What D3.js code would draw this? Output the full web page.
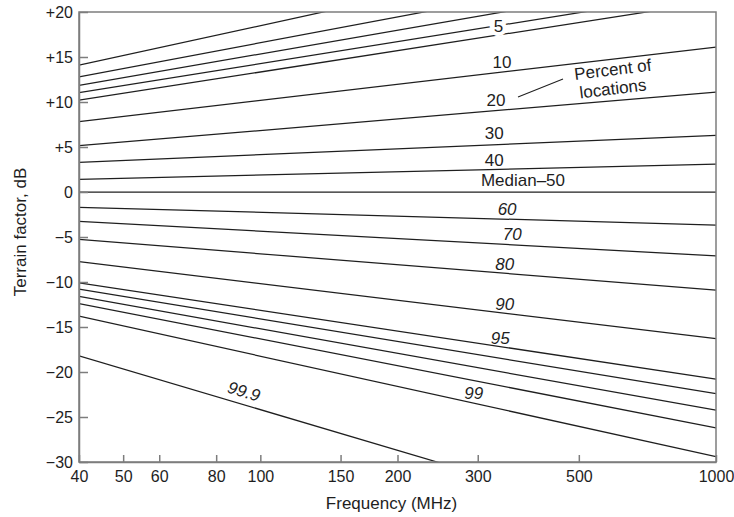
<!DOCTYPE html>
<html>
<head>
<meta charset="utf-8">
<script src="https://cdn.jsdelivr.net/npm/d3@7"></script>
<style>
  body { margin: 0; background: #fff; }
  text { font-family: "Liberation Sans", Arial, Helvetica, sans-serif; fill: #1e1e1e; }
</style>
</head>
<body>
<svg id="chart" width="734" height="517"></svg>
<script>
// Terrain factor (dB) against frequency, one straight line (on log frequency)
// per percentage of locations. Each curve is given by its value at 40 MHz and 1000 MHz.
const curveLabels    = ["", "", "", "5", "", "10", "20", "30", "40", "Median–50",
                        "60", "70", "80", "90", "95", "", "", "", "99", "99.9"];
const valueAt40MHz   = [14.1, 12.8, 11.85, 11.03, 10.2, 7.81, 5.14, 3.3, 1.41, 0,
                        -1.7, -3.26, -5.26, -7.74, -10.1, -10.8, -11.6, -12.4, -13.8, -18.2];
const valueAt1000MHz = [29.5, 26.1, 24.1, 22.36, 21.2, 16.1, 11.1, 6.3, 3.1, 0,
                        -3.67, -7.1, -10.9, -16.3, -20.8, -22.4, -24.25, -26.2, -29.4, -39.2];
const curveItalic    = [false, false, false, false, false, false, false, false, false, false,
                        true, true, true, true, true, true, true, true, true, true];
const freqTicks = [40, 50, 60, 80, 100, 150, 200, 300, 500, 1000];
const dbTicks   = [20, 15, 10, 5, 0, -5, -10, -15, -20, -25, -30];
const xTitle = "Frequency (MHz)";
const yTitle = "Terrain factor, dB";
const noteLines = ["Percent of", "locations"];

// Where each curve label sits: frequency along the curve and offset above it (px).
const labelPlacement = {
  "5": [333, 1], "10": [339, -10], "20": [329, -10], "30": [326, -11], "40": [326, -9],
  "Median–50": [377, -12], "60": [348, -10], "70": [357, -10], "80": [344, -9],
  "90": [344, -9], "95": [336, -8.5], "99": [294, -10], "99.9": [92, -13]
};

const svg = d3.select("#chart");
const plotL = 79, plotR = 716, plotT = 12, plotB = 462;
const frameColor = "#7d7d7d";

const x = d3.scaleLog().domain([40, 1000]).range([plotL, plotR]);
const y = d3.scaleLinear().domain([-30, 20]).range([plotB, plotT]);

const curves = curveLabels.map((label, i) => ({
  label, italic: curveItalic[i],
  pts: [[40, valueAt40MHz[i]], [1000, valueAt1000MHz[i]]]
}));
const valueOn = (c, f) => {
  const t = Math.log10(f / 40) / Math.log10(1000 / 40);
  return c.pts[0][1] + t * (c.pts[1][1] - c.pts[0][1]);
};

svg.append("clipPath").attr("id", "plot-clip")
  .append("rect").attr("x", plotL).attr("y", plotT)
  .attr("width", plotR - plotL).attr("height", plotB - plotT);

// curves
const line = d3.line().x(d => x(d[0])).y(d => y(d[1]));
svg.append("g").attr("clip-path", "url(#plot-clip)")
  .selectAll("path").data(curves).join("path")
  .attr("d", d => line(d.pts))
  .attr("fill", "none").attr("stroke", "#1f1f1f").attr("stroke-width", 1.25);

// frame
svg.append("rect").attr("x", plotL).attr("y", plotT)
  .attr("width", plotR - plotL).attr("height", plotB - plotT)
  .attr("fill", "none").attr("stroke", frameColor).attr("stroke-width", 1.5);

// axes with inward ticks
const fmtDb = d => d > 0 ? "+" + d : d < 0 ? "\u2212" + (-d) : "0";
const yAxis = svg.append("g").attr("transform", `translate(${plotL},0)`)
  .call(d3.axisLeft(y).tickValues(dbTicks).tickFormat(fmtDb)
    .tickSizeInner(-9).tickSizeOuter(0).tickPadding(6));
const xAxis = svg.append("g").attr("transform", `translate(0,${plotB})`)
  .call(d3.axisBottom(x).tickValues(freqTicks).tickFormat(d3.format("d"))
    .tickSizeInner(-7).tickSizeOuter(0).tickPadding(9));
[yAxis, xAxis].forEach(g => {
  g.select(".domain").attr("stroke", frameColor).attr("stroke-width", 1.5);
  g.selectAll(".tick line").attr("stroke", frameColor).attr("stroke-width", 1.5);
  g.selectAll(".tick text").attr("font-size", 16).attr("fill", "#1e1e1e")
    .style("font-family", '"Liberation Sans", Arial, sans-serif');
});

// axis titles
svg.append("text").attr("x", (plotL + plotR) / 2 - 6).attr("y", 509)
  .attr("text-anchor", "middle").attr("font-size", 17).text(xTitle);
svg.append("text").attr("transform", `translate(26,232) rotate(-90)`)
  .attr("text-anchor", "middle").attr("font-size", 17).text(yTitle);

// curve labels
const angleOf = c => Math.atan2(y(c.pts[1][1]) - y(c.pts[0][1]), x(1000) - x(40)) * 180 / Math.PI;
curves.filter(c => c.label && labelPlacement[c.label]).forEach(c => {
  const [f, off] = labelPlacement[c.label];
  const cx = x(f), cy = y(valueOn(c, f)) + off;
  const t = svg.append("text")
    .attr("text-anchor", "middle").attr("dominant-baseline", "central")
    .attr("font-size", 17)
    .attr("font-style", c.italic ? "italic" : "normal")
    .text(c.label);
  if (c.label === "99.9") {
    t.attr("transform", `translate(${cx},${cy}) rotate(${angleOf(c)})`);
  } else {
    t.attr("x", cx).attr("y", cy);
  }
  if (c.label === "5") {
    // break the curve around its label
    t.attr("stroke", "#fff").attr("stroke-width", 8).attr("paint-order", "stroke");
  }
});

// "Percent of locations" note with leader line
const note = svg.append("g").attr("transform", "translate(575,80) rotate(-7)");
note.selectAll("text").data(noteLines).join("text")
  .attr("x", (d, i) => i * 3).attr("y", (d, i) => i * 19)
  .attr("font-size", 17).text(d => d);
svg.append("line")
  .attr("x1", 518).attr("y1", 97).attr("x2", 563).attr("y2", 79)
  .attr("stroke", "#1f1f1f").attr("stroke-width", 1.1);
</script>
</body>
</html>
